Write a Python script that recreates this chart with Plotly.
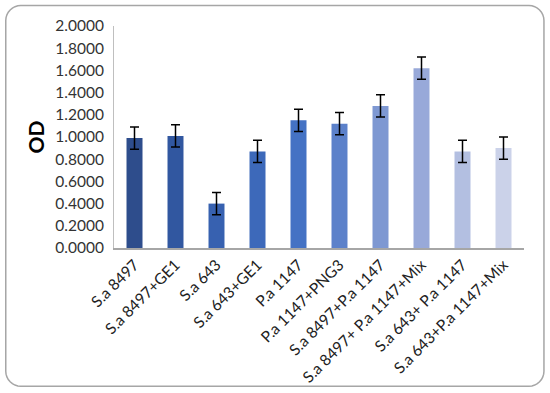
import math
import plotly.graph_objects as go

categories = ["S.a 8497", "S.a 8497+GE1", "S.a 643", "S.a 643+GE1", "P.a 1147",
              "P.a 1147+PNG3", "S.a 8497+P.a 1147", "S.a 8497+ P.a 1147+Mix",
              "S.a 643+ P.a 1147", "S.a 643+P.a 1147+Mix"]
od_values = [0.99, 1.01, 0.40, 0.87, 1.15, 1.12, 1.28, 1.62, 0.87, 0.90]
od_errors = [0.10, 0.10, 0.10, 0.10, 0.10, 0.10, 0.10, 0.10, 0.10, 0.10]
bar_colors = ["#2E4D8C", "#3157A0", "#3761B0", "#3D69BA", "#4472C4",
              "#5C81CA", "#7E98D2", "#98A9D9", "#B3BFE1", "#CBD2E9"]
y_ticks = [0.0, 0.2, 0.4, 0.6, 0.8, 1.0, 1.2, 1.4, 1.6, 1.8, 2.0]

W, H = 550, 393
L, R, T, B = 113.5, 25.5, 25.5, 145
pw, ph = W - L - R, H - T - B

def px2paper(x, y):
    return (x - L) / pw, (H - B - y) / ph

def rounded_rect(x0, y0, x1, y1, r, n=8):
    pts = []
    corners = [(x1 - r, y0 + r, -90), (x1 - r, y1 - r, 0),
               (x0 + r, y1 - r, 90), (x0 + r, y0 + r, 180)]
    for cx, cy, a0 in corners:
        for i in range(n + 1):
            a = math.radians(a0 + 90 * i / n)
            pts.append((cx + r * math.cos(a), cy + r * math.sin(a)))
    segs = []
    for i, (x, y) in enumerate(pts):
        a, b = px2paper(x, y)
        segs.append(("M" if i == 0 else "L") + f"{a:.5f},{b:.5f}")
    return " ".join(segs) + " Z"

font_family = "Lato, 'Open Sans', sans-serif"

fig = go.Figure(go.Bar(
    x=categories, y=od_values,
    marker=dict(color=bar_colors, line=dict(width=0)),
    width=0.39,
    error_y=dict(type="data", array=od_errors, visible=True,
                 color="black", thickness=1.5, width=4.5),
))

fig.update_layout(
    width=W, height=H,
    margin=dict(l=L, r=R, t=T, b=B, pad=0),
    paper_bgcolor="white", plot_bgcolor="white",
    showlegend=False,
    font=dict(family=font_family, size=15.5, color="#222222"),
    xaxis=dict(tickangle=-45, showline=True, linecolor="#A6A6A6", linewidth=1.5,
               showgrid=False, ticks="", automargin=False,
               tickfont=dict(size=15.5, color="#222222")),
    yaxis=dict(range=[0, 2.0], tickvals=y_ticks,
               ticktext=[f"{v:.4f}" for v in y_ticks],
               showline=True, linecolor="#BFBFBF", linewidth=1,
               showgrid=False, zeroline=False, ticks="", automargin=False,
               ticklabelstandoff=6,
               tickfont=dict(size=15.5, color="#333333"),
               title=dict(text="<b>OD</b>", font=dict(size=21, color="black"), standoff=4)),
    shapes=[dict(type="path", xref="paper", yref="paper",
                 path=rounded_rect(5, 5, 544.5, 386.5, 15),
                 line=dict(color="#A6A6A6", width=1.5), fillcolor="rgba(0,0,0,0)",
                 layer="above")],
)

fig.write_html("out.html", config={"displayModeBar": False},
               post_script="document.body.style.margin='0';")
